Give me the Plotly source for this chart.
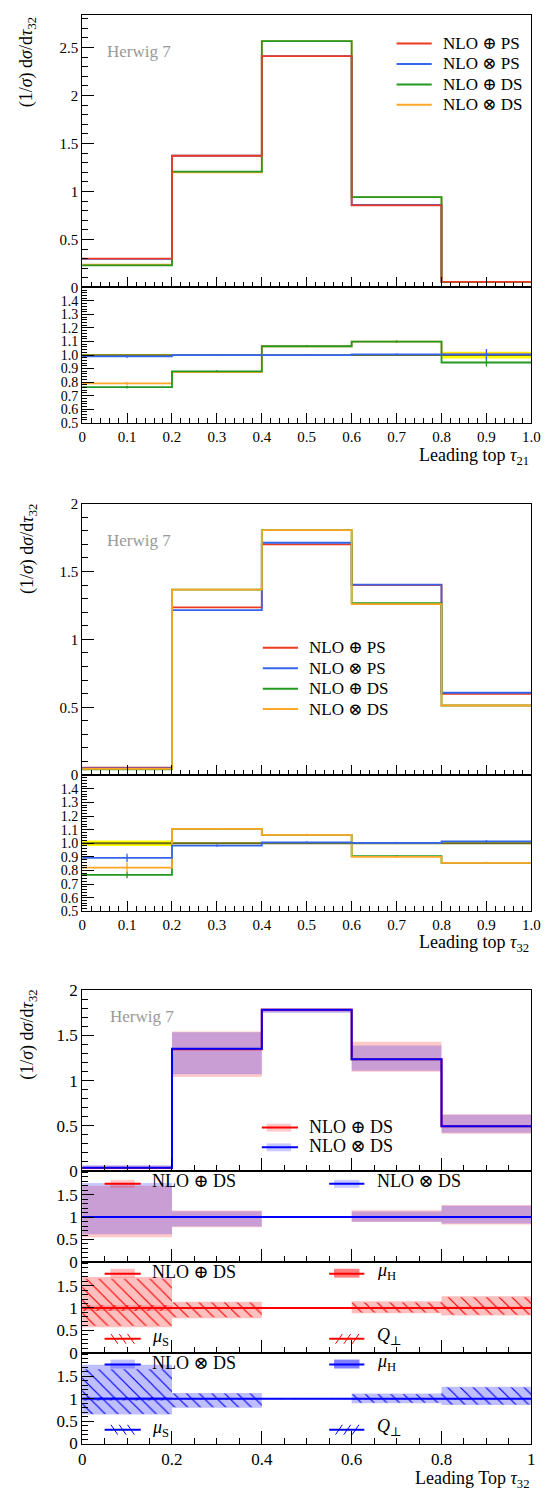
import plotly.graph_objects as go

W, H = 555, 1494
FONT = "'Liberation Serif', 'DejaVu Serif', serif"

# ---------------------------------------------------------------- data
EDGES = [0.0, 0.2, 0.4, 0.6, 0.8, 1.0]
CENTERS = [0.1, 0.3, 0.5, 0.7, 0.9]

# Leading top tau21, normalised distributions
T21_PLUS_PS = [0.300, 1.372, 2.410, 0.855, 0.058]
T21_TIMES_PS = [0.297, 1.372, 2.410, 0.859, 0.0583]
T21_PLUS_DS = [0.229, 1.207, 2.567, 0.940, 0.0548]
T21_TIMES_DS = [0.237, 1.200, 2.567, 0.940, 0.0586]
# statistical uncertainties in the ratio
T21_REF_ERR = [0.006, 0.003, 0.002, 0.003, 0.025]
T21_ERR_TIMES_PS = [0.010, 0.004, 0.003, 0.005, 0.040]
T21_ERR_PLUS_DS = [0.010, 0.004, 0.003, 0.005, 0.030]
T21_ERR_TIMES_DS = [0.010, 0.004, 0.003, 0.005, 0.030]

# Leading top tau32, normalised distributions
T32_PLUS_PS = [0.056, 1.236, 1.700, 1.400, 0.599]
T32_TIMES_PS = [0.050, 1.215, 1.712, 1.404, 0.607]
T32_PLUS_DS = [0.043, 1.366, 1.805, 1.267, 0.513]
T32_TIMES_DS = [0.046, 1.366, 1.805, 1.260, 0.513]
T32_REF_ERR = [0.020, 0.004, 0.003, 0.003, 0.006]
T32_ERR_TIMES_PS = [0.030, 0.006, 0.004, 0.004, 0.008]
T32_ERR_PLUS_DS = [0.025, 0.005, 0.004, 0.004, 0.006]
T32_ERR_TIMES_DS = [0.037, 0.005, 0.004, 0.004, 0.006]

# Leading top tau32 with scale-variation envelopes
DS_PLUS = [0.034, 1.347, 1.784, 1.238, 0.495]
DS_PLUS_LO = [0.0187, 1.040, 1.760, 1.100, 0.413]
DS_PLUS_HI = [0.0578, 1.545, 1.800, 1.430, 0.628]
DS_TIMES = [0.036, 1.354, 1.784, 1.238, 0.497]
DS_TIMES_LO = [0.0223, 1.070, 1.750, 1.110, 0.425]
DS_TIMES_HI = [0.0634, 1.535, 1.790, 1.390, 0.622]

# individual variations, relative to the central prediction
PLUS_MUH_LO = [0.57, 0.77, 0.99, 0.88, 0.83]
PLUS_MUH_HI = [1.69, 1.14, 1.01, 1.15, 1.26]
PLUS_MUS_LO = [0.60, 0.79, 0.99, 0.90, 0.85]
PLUS_MUS_HI = [1.65, 1.12, 1.01, 1.12, 1.24]
PLUS_QP_LO = [0.93, 0.98, 0.995, 0.98, 0.98]
PLUS_QP_HI = [1.06, 1.02, 1.005, 1.02, 1.03]

TIMES_MUH_LO = [0.65, 0.80, 0.99, 0.90, 0.86]
TIMES_MUH_HI = [1.76, 1.13, 1.01, 1.12, 1.27]
TIMES_MUS_LO = [0.66, 0.81, 0.99, 0.91, 0.87]
TIMES_MUS_HI = [1.66, 1.12, 1.01, 1.10, 1.25]
TIMES_QP_LO = [0.96, 0.985, 0.995, 0.985, 0.985]
TIMES_QP_HI = [1.04, 1.015, 1.005, 1.015, 1.02]

# ---------------------------------------------------------------- styling
RED = "#ee3a22"
BLUE = "#3366ee"
GREEN = "#229922"
ORANGE = "#ffa626"
REFLINE = "#6b6a12"
YELLOW = "#ffff00"


def xp(v):
    return v / W


def yp(v):
    return 1 - v / H


# vertical extent (pixels) of every subplot
PANELS = {
    1: (6, 282), 2: (282, 419),
    3: (501, 776), 4: (776, 914),
    5: (994, 1177), 6: (1177, 1269), 7: (1269, 1361), 8: (1361, 1453),
}
X0, X1 = 80, 540

fig = go.Figure()


def step(i, vals, color, width=1.8, name=""):
    fig.add_trace(go.Scatter(
        x=EDGES, y=list(vals) + [vals[-1]], mode="lines", line_shape="hv",
        line=dict(color=color, width=width), xaxis=f"x{i}", yaxis=f"y{i}",
        showlegend=False, hoverinfo="skip", name=name))


def errbars(i, vals, err, color):
    fig.add_trace(go.Scatter(
        x=CENTERS, y=vals, mode="markers",
        marker=dict(size=2, color=color),
        error_y=dict(type="data", array=err, color=color, thickness=1.3, width=0),
        xaxis=f"x{i}", yaxis=f"y{i}", showlegend=False, hoverinfo="skip"))


def band_xy(lo, hi):
    xs, ys = [], []
    for k in range(len(lo)):
        a, b = EDGES[k], EDGES[k + 1]
        xs += [a, b, b, a, a, None]
        ys += [lo[k], lo[k], hi[k], hi[k], lo[k], None]
    return xs, ys


def band(i, lo, hi, fill, pattern=None):
    xs, ys = band_xy(lo, hi)
    kw = {}
    if pattern is not None:
        kw["fillpattern"] = pattern
    fig.add_trace(go.Scatter(
        x=xs, y=ys, mode="lines", fill="toself", fillcolor=fill,
        line=dict(width=0, color="rgba(0,0,0,0)"),
        xaxis=f"x{i}", yaxis=f"y{i}", showlegend=False, hoverinfo="skip", **kw))


def ratio(vals, ref):
    return [v / r for v, r in zip(vals, ref)]


ONES = [1.0] * 5

# ---------------- panel 1 : tau21
step(1, T21_TIMES_DS, ORANGE)
step(1, T21_TIMES_PS, BLUE)
step(1, T21_PLUS_DS, GREEN)
step(1, T21_PLUS_PS, RED)

band(2, [1 - e for e in T21_REF_ERR], [1 + e for e in T21_REF_ERR], YELLOW)
step(2, ratio(T21_PLUS_PS, T21_PLUS_PS), REFLINE)
r = ratio(T21_TIMES_DS, T21_PLUS_PS)
step(2, r, ORANGE); errbars(2, r, T21_ERR_TIMES_DS, ORANGE)
r = ratio(T21_PLUS_DS, T21_PLUS_PS)
step(2, r, GREEN); errbars(2, r, T21_ERR_PLUS_DS, GREEN)
r = ratio(T21_TIMES_PS, T21_PLUS_PS)
step(2, r, BLUE); errbars(2, r, T21_ERR_TIMES_PS, BLUE)

# ---------------- panel 2 : tau32
step(3, T32_PLUS_PS, RED)
step(3, T32_TIMES_PS, BLUE)
step(3, T32_PLUS_DS, GREEN)
step(3, T32_TIMES_DS, ORANGE)

band(4, [1 - e for e in T32_REF_ERR], [1 + e for e in T32_REF_ERR], YELLOW)
step(4, ratio(T32_PLUS_PS, T32_PLUS_PS), REFLINE)
r = ratio(T32_PLUS_DS, T32_PLUS_PS)
step(4, r, GREEN); errbars(4, r, T32_ERR_PLUS_DS, GREEN)
r = ratio(T32_TIMES_DS, T32_PLUS_PS)
step(4, r, ORANGE); errbars(4, r, T32_ERR_TIMES_DS, ORANGE)
r = ratio(T32_TIMES_PS, T32_PLUS_PS)
step(4, r, BLUE); errbars(4, r, T32_ERR_TIMES_PS, BLUE)

# ---------------- panel 3 : tau32 with uncertainty envelopes
PINK = "rgba(255,0,0,0.21)"
LBLUE = "rgba(0,0,255,0.21)"
band(5, DS_PLUS_LO, DS_PLUS_HI, PINK)
band(5, DS_TIMES_LO, DS_TIMES_HI, LBLUE)
step(5, DS_PLUS, "#ff0000", 2)
step(5, DS_TIMES, "#0000ff", 2)

band(6, ratio(DS_PLUS_LO, DS_PLUS), ratio(DS_PLUS_HI, DS_PLUS), PINK)
band(6, ratio(DS_TIMES_LO, DS_TIMES), ratio(DS_TIMES_HI, DS_TIMES), LBLUE)
step(6, ratio(DS_PLUS, DS_PLUS), "#ff0000", 2)
step(6, ratio(DS_TIMES, DS_TIMES), "#0000ff", 2)


def variations(i, muh_lo, muh_hi, mus_lo, mus_hi, qp_lo, qp_hi, rgb):
    col = f"rgb({rgb})"
    band(i, muh_lo, muh_hi, f"rgba({rgb},0.25)")
    band(i, qp_lo, qp_hi, f"rgba({rgb},0.2)")
    band(i, mus_lo, mus_hi, "rgba(0,0,0,0)",
         dict(shape="\\", size=9, solidity=0.13, fgcolor=col,
              bgcolor="rgba(0,0,0,0)", fgopacity=1))
    band(i, qp_lo, qp_hi, "rgba(0,0,0,0)",
         dict(shape="/", size=9, solidity=0.13, fgcolor=col,
              bgcolor="rgba(0,0,0,0)", fgopacity=1))
    step(i, ONES, col, 2)


variations(7, PLUS_MUH_LO, PLUS_MUH_HI, PLUS_MUS_LO, PLUS_MUS_HI,
           PLUS_QP_LO, PLUS_QP_HI, "255,0,0")
variations(8, TIMES_MUH_LO, TIMES_MUH_HI, TIMES_MUS_LO, TIMES_MUS_HI,
           TIMES_QP_LO, TIMES_QP_HI, "0,0,255")

# ---------------------------------------------------------------- axes
TICK = dict(ticks="inside", ticklen=12, tickwidth=1, tickcolor="black",
            showline=True, linecolor="black", linewidth=1, mirror=True,
            showgrid=False, zeroline=False)


def minor(d, ln=6):
    return dict(ticks="inside", ticklen=ln, tickwidth=1, tickcolor="black",
                tickmode="linear", tick0=0, dtick=d, showgrid=False)


layout = {}
for i, (top, bot) in PANELS.items():
    old_style = i <= 4
    fs = 15 if old_style else 17
    xa = dict(domain=[xp(X0), xp(X1)], range=[0, 1], anchor=f"y{i}", **TICK,
              tickfont=dict(family=FONT, size=fs, color="black"))
    if old_style:
        xa.update(tickvals=[k / 10 for k in range(11)],
                  ticktext=["0"] + [f"0.{k}" for k in range(1, 10)] + ["1.0"],
                  ticklen=10, minor=minor(0.02, 5))
        xa["showticklabels"] = i in (2, 4)
    else:
        xa.update(tickvals=[0, 0.2, 0.4, 0.6, 0.8, 1.0],
                  ticktext=["0", "0.2", "0.4", "0.6", "0.8", "1"],
                  ticklen=13, minor=minor(0.05, 6))
        xa["showticklabels"] = i == 8
    layout[f"xaxis{i}"] = xa

    yfs = 14 if i in (2, 4) else fs
    ya = dict(domain=[yp(bot), yp(top)], anchor=f"x{i}", **TICK,
              tickfont=dict(family=FONT, size=yfs, color="black"))
    if i == 1:
        ya.update(range=[0, 2.84], tickvals=[0, 0.5, 1, 1.5, 2, 2.5],
                  ticktext=["0", "0.5", "1", "1.5", "2", "2.5"], minor=minor(0.1))
    elif i == 3:
        ya.update(range=[0, 2.0], tickvals=[0, 0.5, 1, 1.5, 2],
                  ticktext=["0", "0.5", "1", "1.5", "2"], minor=minor(0.1))
    elif i in (2, 4):
        vals = [round(0.5 + 0.1 * k, 1) for k in range(10)]
        ya.update(range=[0.5, 1.5], tickvals=vals,
                  ticktext=[f"{v:.1f}" for v in vals], minor=minor(0.02, 5))
    elif i == 5:
        ya.update(range=[0, 2.0], tickvals=[0, 0.5, 1, 1.5, 2],
                  ticktext=["0", "0.5", "1", "1.5", "2"], minor=minor(0.1))
    else:
        ya.update(range=[0, 2.03], tickvals=[0, 0.5, 1, 1.5],
                  ticktext=["0", "0.5", "1", "1.5"], minor=minor(0.1))
    layout[f"yaxis{i}"] = ya

# ---------------------------------------------------------------- text & keys
ann = []
shapes = []


def text(x, y, s, size=16, color="black", xanchor="left", angle=0, yanchor="middle"):
    ann.append(dict(x=xp(x), y=yp(y), xref="paper", yref="paper", text=s,
                    showarrow=False, xanchor=xanchor, yanchor=yanchor, textangle=angle,
                    font=dict(family=FONT, size=size, color=color)))


def hline(x0, x1, y, color, width=2):
    shapes.append(dict(type="line", xref="paper", yref="paper",
                       x0=xp(x0), x1=xp(x1), y0=yp(y), y1=yp(y),
                       line=dict(color=color, width=width)))


def rect(x0, x1, y0, y1, fill):
    shapes.append(dict(type="rect", xref="paper", yref="paper",
                       x0=xp(x0), x1=xp(x1), y0=yp(y0), y1=yp(y1),
                       fillcolor=fill, line=dict(width=0)))


def hatch(x0, x1, y, color, back=True):
    # short diagonal strokes of a hatched key
    for k in range(3):
        cx = x0 + 10 + 8.5 * k
        if back:
            shapes.append(dict(type="line", xref="paper", yref="paper",
                               x0=xp(cx - 3.5), x1=xp(cx + 3.5), y0=yp(y - 5), y1=yp(y + 5),
                               line=dict(color=color, width=1)))
        else:
            shapes.append(dict(type="line", xref="paper", yref="paper",
                               x0=xp(cx - 3.5), x1=xp(cx + 3.5), y0=yp(y + 5), y1=yp(y - 5),
                               line=dict(color=color, width=1)))
    hline(x0, x1, y, color, 2)


YTITLE = "(1/<i>σ</i>) d<i>σ</i>/d<i>τ</i><sub>32</sub>"
KEYS = [("NLO ⊕ PS", RED), ("NLO ⊗ PS", BLUE), ("NLO ⊕ DS", GREEN), ("NLO ⊗ DS", ORANGE)]

# panel 1
text(103, 43, "Herwig 7", 17, "#999999")
text(25, 6, YTITLE, 18, angle=-90, xanchor="center", yanchor="top")
for k, (lab, col) in enumerate(KEYS):
    y = 35 + 20.7 * k
    hline(402, 438, y, col, 2)
    text(447, y, lab, 17)
text(540, 453, "Leading top <i>τ</i><sub>21</sub>", 18, xanchor="right")

# panel 2
text(103, 538, "Herwig 7", 17, "#999999")
text(25, 499, YTITLE, 18, angle=-90, xanchor="center", yanchor="top")
for k, (lab, col) in enumerate(KEYS):
    y = 647 + 20.7 * k
    hline(265, 301, y, col, 2)
    text(310, y, lab, 17)
text(540, 947, "Leading top <i>τ</i><sub>32</sub>", 18, xanchor="right")

# panel 3
text(106, 1020, "Herwig 7", 17, "#999999")
text(25, 991, YTITLE, 18, angle=-90, xanchor="center", yanchor="top")
rect(269, 294, 1129, 1137, PINK)
hline(264, 301, 1133, "#ff0000", 2)
text(310, 1132, "NLO ⊕ DS", 18)
rect(269, 294, 1149, 1157, LBLUE)
hline(264, 301, 1153, "#0000ff", 2)
text(310, 1152, "NLO ⊗ DS", 18)

# ratio 1
rect(109, 134, 1186, 1194, PINK)
hline(103, 140, 1190, "#ff0000", 2)
text(149, 1187, "NLO ⊕ DS", 18)
rect(338, 364, 1186, 1194, LBLUE)
hline(333, 369, 1190, "#0000ff", 2)
text(380, 1187, "NLO ⊗ DS", 18)

# ratio 2 and 3
for (ytop, ybot, rgb, lab) in [(1281, 1347, "255,0,0", "NLO ⊕ DS"),
                               (1373, 1439, "0,0,255", "NLO ⊗ DS")]:
    col = f"rgb({rgb})"
    rect(109, 134, ytop - 5, ytop + 4, f"rgba({rgb},0.25)")
    hline(103, 140, ytop, col, 2)
    text(149, ytop - 2, lab, 18)
    rect(338, 364, ytop - 5, ytop + 4, f"rgba({rgb},0.5)")
    hline(333, 369, ytop, col, 2)
    text(380, ytop - 2, "<i>μ</i><sub>H</sub>", 18)
    hatch(103, 140, ybot, col, back=True)
    text(149, ybot - 1, "<i>μ</i><sub>S</sub>", 18)
    hatch(333, 369, ybot, col, back=False)
    text(380, ybot - 2, "<i>Q</i><sub>⊥</sub>", 18)

text(540, 1489, "Leading Top <i>τ</i><sub>32</sub>", 18, xanchor="right")

fig.update_layout(
    width=W, height=H, margin=dict(l=0, r=0, t=0, b=0),
    paper_bgcolor="white", plot_bgcolor="white",
    showlegend=False, annotations=ann, shapes=shapes,
    font=dict(family=FONT, color="black"),
    **layout,
)

# the page body gets no default margin so the figure fills the window exactly
fig.write_html(
    "out.html",
    post_script="document.body.style.margin='0';document.body.style.padding='0';",
)
